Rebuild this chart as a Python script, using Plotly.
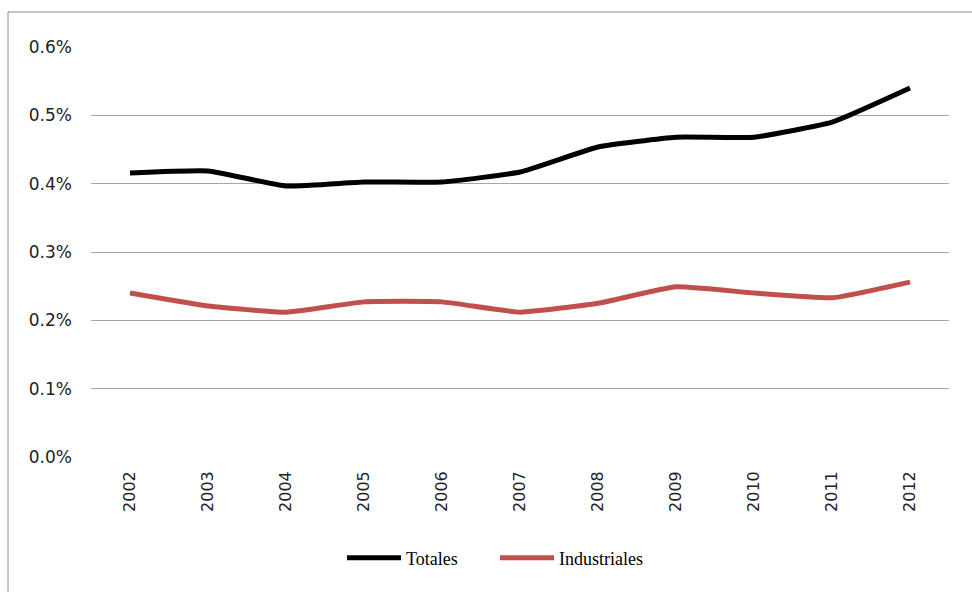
import plotly.graph_objects as go

years = ["2002", "2003", "2004", "2005", "2006", "2007", "2008", "2009", "2010", "2011", "2012"]
totales = [0.4156, 0.4185, 0.3966, 0.4025, 0.4025, 0.4170, 0.4537, 0.4680, 0.4680, 0.4900, 0.5400]
industriales = [0.2400, 0.2210, 0.2120, 0.2270, 0.2270, 0.2120, 0.2250, 0.2490, 0.2400, 0.2330, 0.2560]
yticks = [0.0, 0.1, 0.2, 0.3, 0.4, 0.5, 0.6]
ytick_labels = ["0.0%", "0.1%", "0.2%", "0.3%", "0.4%", "0.5%", "0.6%"]

W, H = 972, 592
L, R, T, B = 91, 23, 47, 135
pw, ph = W - L - R, H - T - B

fig = go.Figure()
fig.add_trace(go.Scatter(x=years, y=totales, name="Totales", mode="lines",
                         line=dict(color="#000000", width=5, shape="spline", smoothing=0.4)))
fig.add_trace(go.Scatter(x=years, y=industriales, name="Industriales", mode="lines",
                         line=dict(color="#C0504D", width=5, shape="spline", smoothing=0.4)))

fig.update_layout(
    width=W, height=H,
    margin=dict(l=L, r=R, t=T, b=B),
    paper_bgcolor="white", plot_bgcolor="white",
    showlegend=True,
    legend=dict(orientation="h", x=(495 - L) / pw, xanchor="center",
                y=(T + ph - 558) / ph, yanchor="middle",
                font=dict(family="Liberation Serif", size=18, color="black"),
                itemwidth=54, tracegroupgap=0, entrywidth=84, entrywidthmode="pixels"),
    xaxis=dict(type="category", tickangle=-90, showgrid=False, zeroline=False,
               showline=False, ticks="", ticklabelstandoff=10,
               tickfont=dict(family="DejaVu Sans", size=16, color="#222"),
               range=[-0.5, len(years) - 0.5]),
    yaxis=dict(range=[0, 0.6], tickvals=yticks, ticktext=ytick_labels,
               showgrid=True, gridcolor="#A6A6A6", gridwidth=1, zeroline=False,
               showline=False, ticks="", ticklabelstandoff=18,
               tickfont=dict(family="DejaVu Sans", size=17, color="#222")),
    shapes=[dict(type="rect", xref="paper", yref="paper",
                 x0=(8 - L) / pw, x1=(W + 5 - L) / pw,
                 y0=(T + ph - (H + 5)) / ph, y1=(T + ph - 12) / ph,
                 line=dict(color="#8C8C8C", width=1), fillcolor="rgba(0,0,0,0)", layer="below")],
)

fig.write_html("out.html")
